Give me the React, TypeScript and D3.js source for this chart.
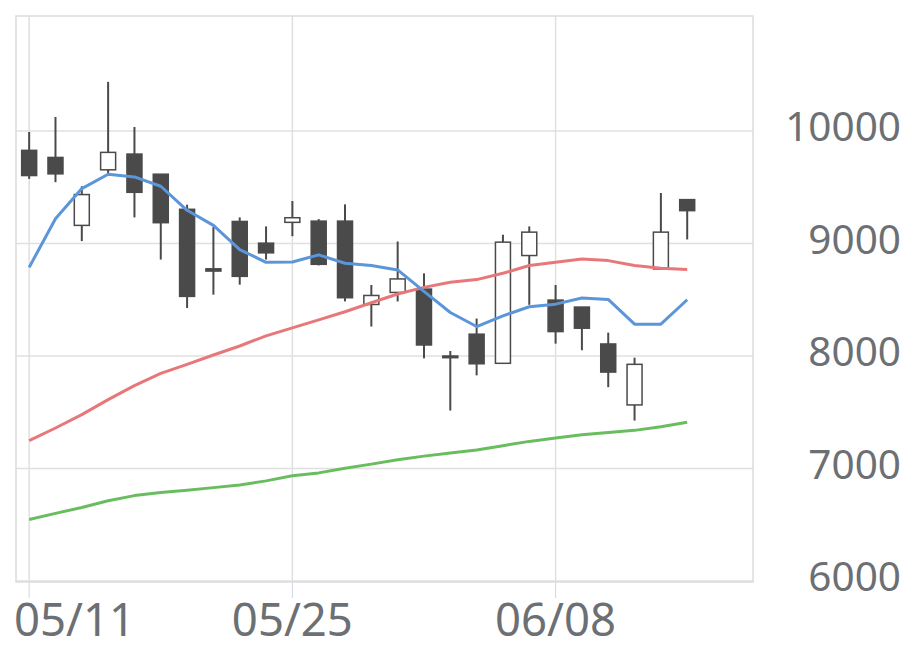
import React from "react";
import * as d3 from "d3";

const dates = ["05/11","05/12","05/13","05/14","05/15","05/18","05/19","05/20","05/21","05/22","05/25","05/26","05/27","05/28","05/29","06/01","06/02","06/03","06/04","06/05","06/08","06/09","06/10","06/11","06/12","06/15"];
const opens = [9828,9765,9161,9655,9795,9616,9304,8775,9196,9003,9188,9199,9199,8458,8565,8595,8000,8194,7935,8893,8497,8435,8107,7565,8774,9390];
const highs = [9991,10125,9509,10437,10036,9616,9345,9146,9232,9152,9378,9217,9348,8631,9018,8735,8045,8333,9078,9152,8631,8435,8208,7985,9449,9390];
const lows = [9574,9545,9021,9622,9232,8857,8426,8545,8634,8857,9065,8805,8485,8262,8485,7979,7515,7828,7935,8455,8110,8051,7723,7426,8774,9036];
const closes = [9604,9619,9435,9810,9455,9185,8530,8755,8708,8917,9229,8815,8518,8538,8685,8098,7985,7931,9012,9101,8217,8247,7857,7926,9101,9292];
const ma5 = [8788,9220,9488,9616,9592,9509,9295,9161,8946,8833,8836,8899,8824,8804,8765,8575,8387,8262,8357,8438,8461,8515,8503,8283,8283,8500];
const ma25 = [7247,7360,7479,7612,7737,7845,7926,8009,8089,8179,8250,8321,8393,8473,8551,8610,8655,8679,8735,8804,8833,8863,8848,8804,8780,8768];
const ma75 = [6547,6601,6654,6714,6759,6786,6806,6830,6854,6890,6935,6961,7003,7039,7078,7110,7137,7164,7203,7241,7271,7301,7321,7339,7372,7411];
const yTicks = [6000,7000,8000,9000,10000];
const xTickLabels = ["05/11","05/25","06/08"];

const W = 920, H = 669;
const plot = { left: 16, right: 753, top: 16, bottom: 582 };

export default function App() {
  const x = d3.scaleLinear().domain([-0.5, 27.5]).range([plot.left, plot.right]);
  const y = d3.scaleLinear().domain([6000, 10000]).range([581, 131]);
  const line = (vals: number[]) =>
    d3.line<number>().x((_, i) => x(i)).y((v) => y(v))(vals) || "";
  const candleW = 15;
  const dark = "#4a4a4a";
  const font = "'Noto Sans', sans-serif";
  const textColor = "#6c6f73";

  return (
    <svg width={W} height={H} style={{ position: "absolute", left: 0, top: 0, background: "#fff" }}>
      {yTicks.map((t) => (
        <line key={"gy" + t} x1={plot.left} x2={plot.right} y1={y(t)} y2={y(t)} stroke="#e0e0e0" strokeWidth={1.5} />
      ))}
      {xTickLabels.map((lab) => {
        const i = dates.indexOf(lab);
        return (
          <g key={"gx" + lab}>
            <line x1={x(i)} x2={x(i)} y1={plot.top} y2={plot.bottom} stroke="#e0e0e0" strokeWidth={1.5} />
            <line x1={x(i)} x2={x(i)} y1={plot.bottom} y2={598} stroke="#cbd6e8" strokeWidth={1} />
          </g>
        );
      })}
      <rect x={plot.left} y={plot.top} width={plot.right - plot.left} height={plot.bottom - plot.top} fill="none" stroke="#dcdcdc" strokeWidth={1.5} />

      {dates.map((d, i) => {
        const o = opens[i], c = closes[i];
        const up = c >= o;
        const top = y(Math.max(o, c));
        const bot = y(Math.min(o, c));
        const cx = x(i);
        return (
          <g key={"c" + d}>
            <line x1={cx} x2={cx} y1={y(highs[i])} y2={y(lows[i])} stroke={dark} strokeWidth={2} />
            <rect x={cx - candleW / 2} y={top} width={candleW} height={Math.max(bot - top, 1.5)} fill={up ? "#fff" : dark} stroke={dark} strokeWidth={1.5} />
          </g>
        );
      })}

      <path d={line(ma75)} fill="none" stroke="#6abd5f" strokeWidth={3} strokeLinejoin="round" />
      <path d={line(ma25)} fill="none" stroke="#e8777a" strokeWidth={3} strokeLinejoin="round" />
      <path d={line(ma5)} fill="none" stroke="#5b95da" strokeWidth={3} strokeLinejoin="round" />

      {yTicks.map((t) => (
        <text key={"yl" + t} x={901} y={y(t) + 10} textAnchor="end" fontFamily={font} fontSize={40.5} fill={textColor}>
          {t}
        </text>
      ))}
      {xTickLabels.map((lab, k) => {
        const i = dates.indexOf(lab);
        const first = k === 0;
        return (
          <text key={"xl" + lab} x={first ? 14 : x(i)} y={636} textAnchor={first ? "start" : "middle"} fontFamily={font} fontSize={45.5} fill={textColor}>
            {lab}
          </text>
        );
      })}
    </svg>
  );
}
